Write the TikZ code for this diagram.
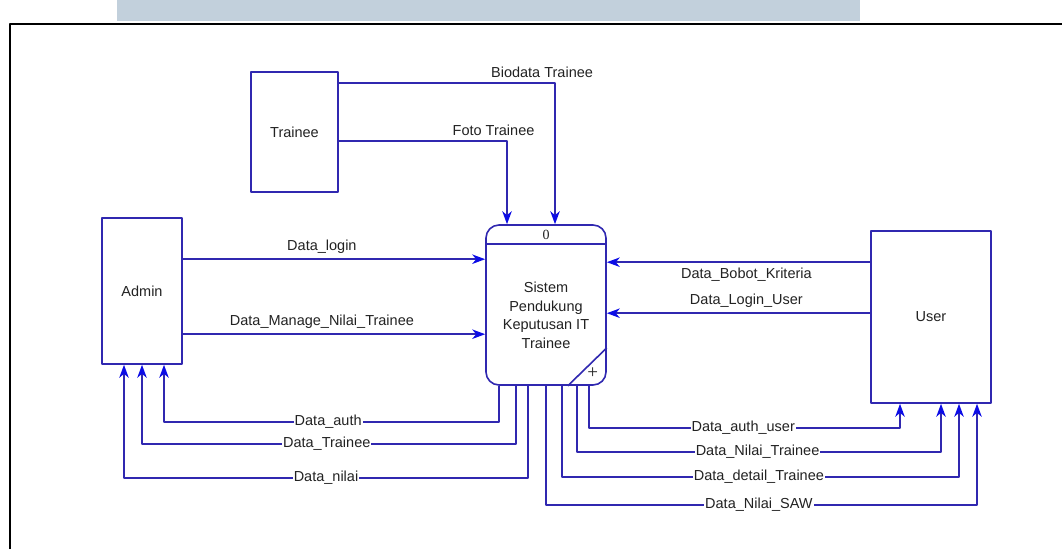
\documentclass[tikz,border=0pt]{standalone}
\usepackage{fontspec}
\setmainfont{Liberation Sans}
\newfontfamily\numfont{Liberation Serif}
\usetikzlibrary{arrows.meta}

\definecolor{dfdline}{RGB}{48,40,176}
\definecolor{dfdtip}{RGB}{12,12,230}
\definecolor{topbar}{RGB}{194,208,220}
\definecolor{dfdtext}{RGB}{34,34,34}

\begin{document}
\begin{tikzpicture}[x=1pt,y=-1pt,line join=round,
  font=\fontsize{14.5}{18.5}\selectfont,text=dfdtext,
  entity/.style={draw=dfdline,line width=1.6pt,fill=white,inner sep=0pt},
  flow/.style={draw=dfdline,line width=1.6pt,-{Stealth[length=13pt,width=9.5pt,inset=4pt,color=dfdtip]}},
  flowlabel/.style={fill=white,inner xsep=1pt,inner ysep=0pt},
  toplabel/.style={inner sep=1pt}]
  \useasboundingbox (0,0) rectangle (1062,549);

  % page frame
  \fill[topbar] (117,0) rectangle (860,21);
  \draw[line width=2pt] (9.5,549) -- (9.5,23.5) -- (1062,23.5);

  % external entities
  \node[entity,minimum width=80pt,minimum height=146pt] (admin) at (142,291) {Admin};
  \node[entity,minimum width=87pt,minimum height=120pt] (trainee) at (294.5,132) {Trainee};
  \node[entity,minimum width=120pt,minimum height=172pt] (user) at (931,317) {User};

  % process 0
  \node[entity,rounded corners=13pt,minimum width=120pt,minimum height=160pt] (proc) at (546,305) {};
  \draw[dfdline,line width=1.6pt] ([yshift=-20]proc.north west) -- ([yshift=-20]proc.north east);
  \draw[dfdline,line width=1.6pt] ([yshift=38]proc.south east) -- ([xshift=-39]proc.south east);
  \node (procnum) at ([yshift=-10.5]proc.north) {\numfont\fontsize{14}{14}\selectfont 0};
  \node (procplus) at ([xshift=-14,yshift=13]proc.south east) {\numfont\fontsize{19}{19}\selectfont +};
  \node[align=center] (proctext) at ([yshift=-10.5]proc.center) {Sistem\\Pendukung\\Keputusan IT\\Trainee};

  % flows into the process
  \draw[flow] ([yshift=-12]trainee.north east) -| node[toplabel,pos=0.47,above=4pt] {Biodata Trainee} ([xshift=9]proc.north);
  \draw[flow] ([yshift=-70]trainee.north east) -| node[toplabel,pos=0.46,above=4pt] {Foto Trainee} ([xshift=-39]proc.north);
  \draw[flow] ([yshift=-42]admin.north east) -- node[toplabel,pos=0.46,above=4pt] {Data\_login} ([yshift=-42]admin.north east -| proc.west);
  \draw[flow] ([yshift=-117]admin.north east) -- node[toplabel,pos=0.46,above=4pt] {Data\_Manage\_Nilai\_Trainee} ([yshift=-117]admin.north east -| proc.west);
  \draw[flow] ([yshift=-32]user.north west) -- node[toplabel,pos=0.47,below=4pt] {Data\_Bobot\_Kriteria} ([yshift=-32]user.north west -| proc.east);
  \draw[flow] ([yshift=-83]user.north west) -- node[toplabel,pos=0.47,above=4pt] {Data\_Login\_User} ([yshift=-83]user.north west -| proc.east);

  % flows back to admin
  \draw[flow] ([xshift=-47]proc.south) -- ++(0,36) -| node[flowlabel,pos=0.255] {Data\_auth} ([xshift=22]admin.south);
  \draw[flow] ([xshift=-30]proc.south) -- ++(0,58) -| node[flowlabel,pos=0.253] {Data\_Trainee} (admin.south);
  \draw[flow] ([xshift=-18]proc.south) -- ++(0,92) -| node[flowlabel,pos=0.25] {Data\_nilai} ([xshift=-18]admin.south);

  % flows back to user
  \draw[flow] ([xshift=43]proc.south) -- ++(0,42) -| node[flowlabel,pos=0.248] {Data\_auth\_user} ([xshift=-31]user.south);
  \draw[flow] ([xshift=31]proc.south) -- ++(0,66) -| node[flowlabel,pos=0.248] {Data\_Nilai\_Trainee} ([xshift=10]user.south);
  \draw[flow] ([xshift=16]proc.south) -- ++(0,91) -| node[flowlabel,pos=0.248] {Data\_detail\_Trainee} ([xshift=28]user.south);
  \draw[flow] (proc.south) -- ++(0,119) -| node[flowlabel,pos=0.247] {Data\_Nilai\_SAW} ([xshift=46]user.south);
\end{tikzpicture}
\end{document}
